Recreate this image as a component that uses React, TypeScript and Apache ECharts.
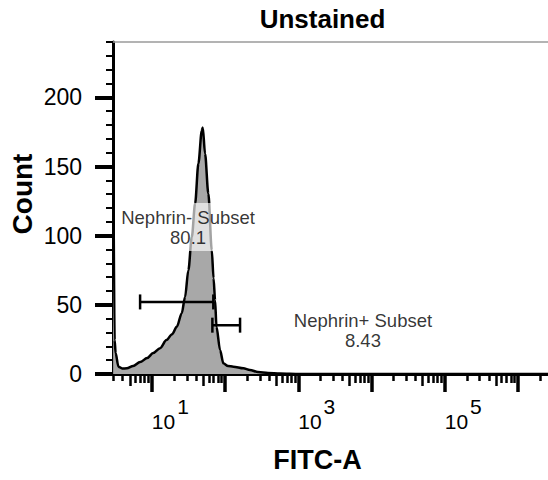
import React, { useEffect, useRef } from "react";
import * as echarts from "echarts";

// FITC-A histogram (x in decades: log10 of fluorescence), y = event count
const fitcDecades = [0.472, 0.4925, 0.506, 0.544, 0.595, 0.659, 0.745, 0.84, 0.936, 1.018, 1.113, 1.2, 1.277, 1.341, 1.409, 1.454, 1.499, 1.546, 1.591, 1.636, 1.682, 1.696, 1.727, 1.772, 1.819, 1.843, 1.864, 1.883, 1.932, 1.977, 2.041, 2.113, 2.25, 2.34, 2.45, 2.587, 2.75, 3.02, 6.41];
const counts = [185, 24.5, 15.1, 5.3, 4.0, 4.1, 5.8, 8.6, 11.5, 15.1, 18.7, 24.5, 28.8, 34.1, 44.0, 55.7, 75.0, 99.0, 123.2, 152.1, 175.9, 178.2, 159.3, 130.4, 89.4, 69.2, 53.3, 34.1, 17.3, 7.7, 5.8, 5.3, 4.1, 2.9, 1.4, 0.7, 0.4, 0, 0];

// Gates
const gateNames = ["Nephrin- Subset", "Nephrin+ Subset"];
const gatePercents = ["80.1", "8.43"];
const gateFrom = [0.84, 1.827];
const gateTo = [1.84, 2.205];
const gateLevel = [52.1, 35.3];
const gateLabelX = [1.495, 3.883];
const gateLabelY = [106.2, 31.7];

// Axes
const X_MIN = 0.47;
const X_MAX = 6.41;
const majorDecades = [1, 2, 3, 4, 5, 6];
const labelDecades = [1, 3, 5];
const Y_MIN = 0;
const Y_MAX = 240;
const yMajor = [0, 50, 100, 150, 200];
const yMinor = [10, 20, 30, 40, 60, 70, 80, 90, 110, 120, 130, 140, 160, 170, 180, 190, 210, 220, 230, 240];
const fiveMultipliers = [5];
const shortMultipliers = [2, 3, 4];
const midMultipliers = [6, 7, 8, 9];

const FONT = "'Liberation Sans', Arial, Helvetica, sans-serif";

function decadeTicks(mults: number[]) {
  const out: number[] = [];
  for (let k = 0; k <= 6; k++) {
    for (const m of mults) {
      const v = k + Math.log10(m);
      if (v >= X_MIN && v <= X_MAX) out.push(v);
    }
  }
  return out;
}

function tickAxis(values: number[], length: number, width: number) {
  return {
    type: "value",
    min: X_MIN,
    max: X_MAX,
    position: "bottom",
    offset: 0,
    axisLine: { show: false },
    axisTick: { show: true, customValues: values, length, lineStyle: { color: "#000", width } },
    axisLabel: { show: false },
    splitLine: { show: false },
  };
}

export default function App() {
  const ref = useRef<HTMLDivElement>(null);
  useEffect(() => {
    if (!ref.current) return;
    const chart = echarts.init(ref.current, undefined, { renderer: "svg" });
    const hist = fitcDecades.map((x, i) => [x, counts[i]]);
    const gateSeries = gateNames.map((name, i) => ({
      type: "line",
      name,
      xAxisIndex: 0,
      yAxisIndex: 0,
      data: [
        [gateFrom[i], gateLevel[i]],
        [gateTo[i], gateLevel[i]],
      ],
      symbol: "rect",
      symbolSize: [2.5, 15],
      showSymbol: true,
      itemStyle: { color: "#000" },
      lineStyle: { color: "#000", width: 2.5 },
      z: 4,
      silent: true,
    }));
    const labelData = gateNames.map((name, i) => ({
      value: [gateLabelX[i], gateLabelY[i]],
      name,
      pct: gatePercents[i],
    }));
    chart.setOption({
      animation: false,
      grid: { left: 113, top: 42, right: 0, bottom: 106, containLabel: false },
      xAxis: [
        {
          type: "value",
          min: X_MIN,
          max: X_MAX,
          position: "bottom",
          offset: 0,
          axisLine: { show: true, lineStyle: { color: "#000", width: 3 } },
          axisTick: { show: true, customValues: majorDecades, length: 18, lineStyle: { color: "#000", width: 3.5 } },
          axisLabel: {
            show: true,
            customValues: labelDecades,
            align: "left",
            margin: 22,
            formatter: (v: number) => `{b|10}{s|${Math.round(v)}}`,
            rich: {
              b: { fontFamily: FONT, fontSize: 21, color: "#000", verticalAlign: "bottom" },
              s: { fontFamily: FONT, fontSize: 21, color: "#000", verticalAlign: "bottom", padding: [0, 0, 15, 2] },
            },
          },
          splitLine: { show: false },
        },
        tickAxis(decadeTicks(fiveMultipliers), 12, 2.5),
        tickAxis(decadeTicks(midMultipliers), 9, 2.5),
        tickAxis(decadeTicks(shortMultipliers), 7, 2.5),
        {
          type: "value",
          min: X_MIN,
          max: X_MAX,
          position: "top",
          axisLine: { show: true, lineStyle: { color: "#9a9a9a", width: 1.5 } },
          axisTick: { show: false },
          axisLabel: { show: false },
          splitLine: { show: false },
        },
      ],
      yAxis: [
        {
          type: "value",
          min: Y_MIN,
          max: Y_MAX,
          position: "left",
          offset: 0,
          axisLine: { show: true, lineStyle: { color: "#000", width: 3 } },
          axisTick: { show: true, customValues: yMajor, length: 18, lineStyle: { color: "#000", width: 4 } },
          axisLabel: { show: true, customValues: yMajor, margin: 31, fontFamily: FONT, fontSize: 23, color: "#000" },
          splitLine: { show: false },
        },
        {
          type: "value",
          min: Y_MIN,
          max: Y_MAX,
          position: "left",
          offset: 0,
          axisLine: { show: false },
          axisTick: { show: true, customValues: yMinor, length: 7, lineStyle: { color: "#000", width: 2 } },
          axisLabel: { show: false },
          splitLine: { show: false },
        },
      ],
      series: [
        {
          type: "line",
          xAxisIndex: 0,
          yAxisIndex: 0,
          data: hist,
          showSymbol: false,
          smooth: 0.3,
          smoothMonotone: "x",
          lineStyle: { color: "#000", width: 2.5 },
          areaStyle: { color: "#a8a8a8", opacity: 1 },
          z: 2,
          silent: true,
        },
        ...gateSeries,
        {
          type: "scatter",
          xAxisIndex: 0,
          yAxisIndex: 0,
          data: labelData,
          symbolSize: 0,
          z: 6,
          silent: true,
          label: {
            show: true,
            position: "inside",
            color: "#000",
            textBorderWidth: 0,
            formatter: (p: any) => `{a|${p.data.name}}\n{a|${p.data.pct}}`,
            backgroundColor: "rgba(255,255,255,0.8)",
            padding: [4, 4, 4, 4],
            rich: {
              a: { fontFamily: FONT, fontSize: 18.5, color: "#000", textBorderWidth: 0, lineHeight: 20, align: "center" },
            },
          },
        },
      ],
      graphic: [
        {
          type: "text",
          x: 322.5,
          y: 18.5,
          style: { text: "Unstained", font: `bold 26px ${FONT}`, fill: "#000", align: "center", verticalAlign: "middle" },
        },
        {
          type: "text",
          x: 317.5,
          y: 460,
          style: { text: "FITC-A", font: `bold 27px ${FONT}`, fill: "#000", align: "center", verticalAlign: "middle" },
        },
        {
          type: "text",
          x: 22,
          y: 194,
          rotation: Math.PI / 2,
          style: { text: "Count", font: `bold 28px ${FONT}`, fill: "#000", align: "center", verticalAlign: "middle" },
        },
      ],
    });
    return () => chart.dispose();
  }, []);
  return (
    <div
      ref={ref}
      style={{ position: "fixed", left: 0, top: 0, width: 548, height: 480, background: "#fff" }}
    />
  );
}
